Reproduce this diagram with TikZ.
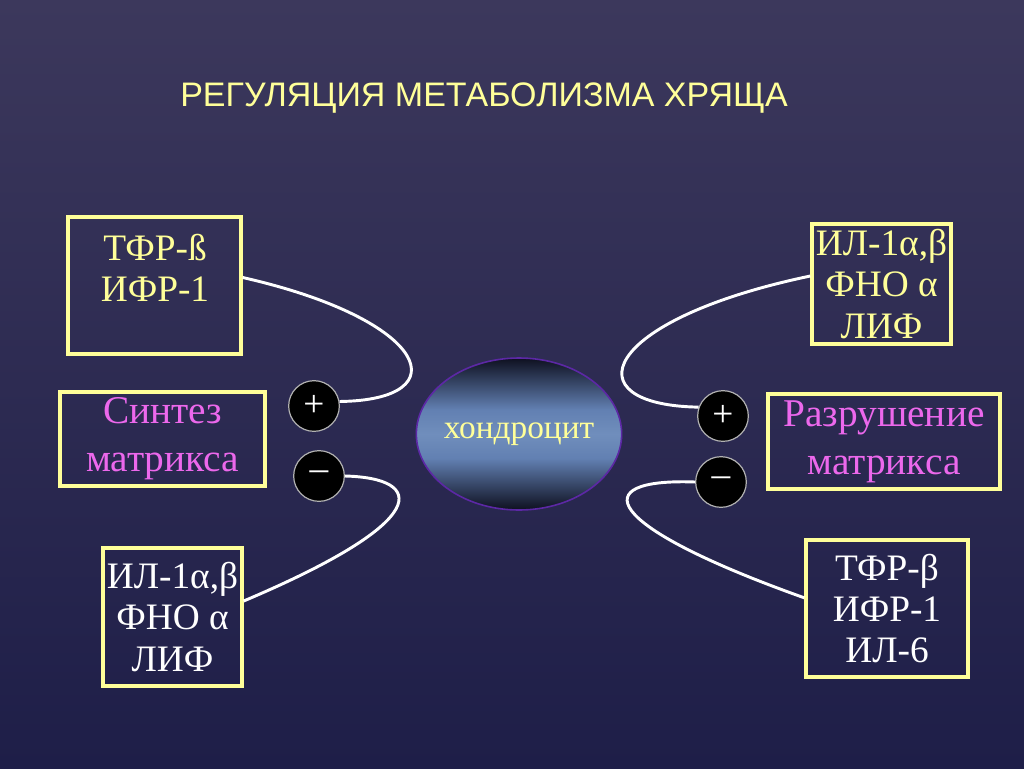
\documentclass[tikz,border=0pt]{standalone}
\usepackage{fontspec}
\setmainfont{Liberation Serif}
\newfontfamily\headfont{Liberation Sans}
\usepackage{xcolor}
\usepackage{tikz}
\usetikzlibrary{shapes.geometric}

\definecolor{bgtop}{RGB}{60,56,92}
\definecolor{bgbot}{RGB}{30,30,72}
\definecolor{paleyellow}{RGB}{255,255,153}
\definecolor{pinktext}{RGB}{236,104,236}
\definecolor{cellblue}{RGB}{98,128,178}
\definecolor{celllight}{RGB}{112,142,188}
\definecolor{celldark}{RGB}{14,16,32}
\definecolor{cellrim}{RGB}{92,40,165}
\pgfdeclareverticalshading{cellshade}{100bp}{color(0bp)=(celldark); color(25bp)=(celldark); color(42bp)=(cellblue); color(50bp)=(celllight); color(58bp)=(cellblue); color(75bp)=(celldark); color(100bp)=(celldark)}

\begin{document}
\begin{tikzpicture}[x=0.75pt,y=-0.75pt,
  frame/.style={draw=paleyellow, line width=2.5pt, inner sep=0pt, align=center},
  yellowtxt/.style={text=paleyellow, font=\fontsize{28}{31}\selectfont},
  whitetxt/.style={text=white, font=\fontsize{28}{31}\selectfont},
  pinktxt/.style={text=pinktext, font=\fontsize{29.5}{36}\selectfont},
  sign/.style={circle, fill=black, draw=gray!60!white, line width=0.9pt,
    minimum size=38pt, inner sep=0pt, text=white, font=\fontsize{28}{28}\selectfont},
  wire/.style={draw=white, line width=2.2pt}]

\fill[top color=bgtop, bottom color=bgbot] (0,0) rectangle (1024,768);
\useasboundingbox (0,0) rectangle (1024,768);

\node[text=paleyellow, font=\headfont\fontsize{25.5}{28}\selectfont] (title) at (484,98)
  {РЕГУЛЯЦИЯ МЕТАБОЛИЗМА ХРЯЩА};

\node[draw=cellrim, line width=1.2pt, ellipse, shading=cellshade, inner sep=0pt,
  minimum width=154pt, minimum height=114pt] (cell) at (519,434) {};
\node[text=paleyellow, font=\fontsize{25}{25}\selectfont] (celltext) at (cell.center) {хондроцит};

% left side
\node[frame, minimum width=129.75pt, minimum height=102.75pt] (tfrL) at (154.5,285.5) {};
\node[yellowtxt, align=center] (tfrLtext) at (155,268) {ТФР-ß\\ИФР-1};
\node[frame, pinktxt, minimum width=153.75pt, minimum height=70.5pt] (synth) at (162.5,439)
  {Синтез\\ матрикса};
\node[frame, whitetxt, minimum width=104.25pt, minimum height=103.5pt] (ilL) at (172.5,617)
  {ИЛ-1α,β\\ФНО α\\ЛИФ};

% right side
\node[frame, yellowtxt, minimum width=104.25pt, minimum height=90pt] (ilR) at (881.5,284)
  {ИЛ-1α,β\\ФНО α\\ЛИФ};
\node[frame, pinktxt, minimum width=174pt, minimum height=71.25pt] (destr) at (884,441.5)
  {Разрушение\\ матрикса};
\node[frame, whitetxt, minimum width=121.5pt, minimum height=102.75pt] (tfrR) at (887,608.5)
  {ТФР-β\\ИФР-1\\ИЛ-6};

\node[sign] (plusL) at (314,406) {+};
\node[sign] (minusL) at (319,476) {–};
\node[sign] (plusR) at (723,416) {+};
\node[sign] (minusR) at (721,482) {–};

\draw[wire] ([yshift=6pt]tfrL.east) .. controls (430,320) and (460,400) .. (plusL.10);
\draw[wire] (minusL.east) .. controls (425,478) and (435,520) .. ([yshift=12pt]ilL.east);
\draw[wire] ([yshift=6pt]ilR.west) .. controls (600,320) and (570,405) .. (plusR.160);
\draw[wire] (minusR.west) .. controls (585,478) and (600,525) .. ([yshift=8pt]tfrR.west);

\end{tikzpicture}
\end{document}
